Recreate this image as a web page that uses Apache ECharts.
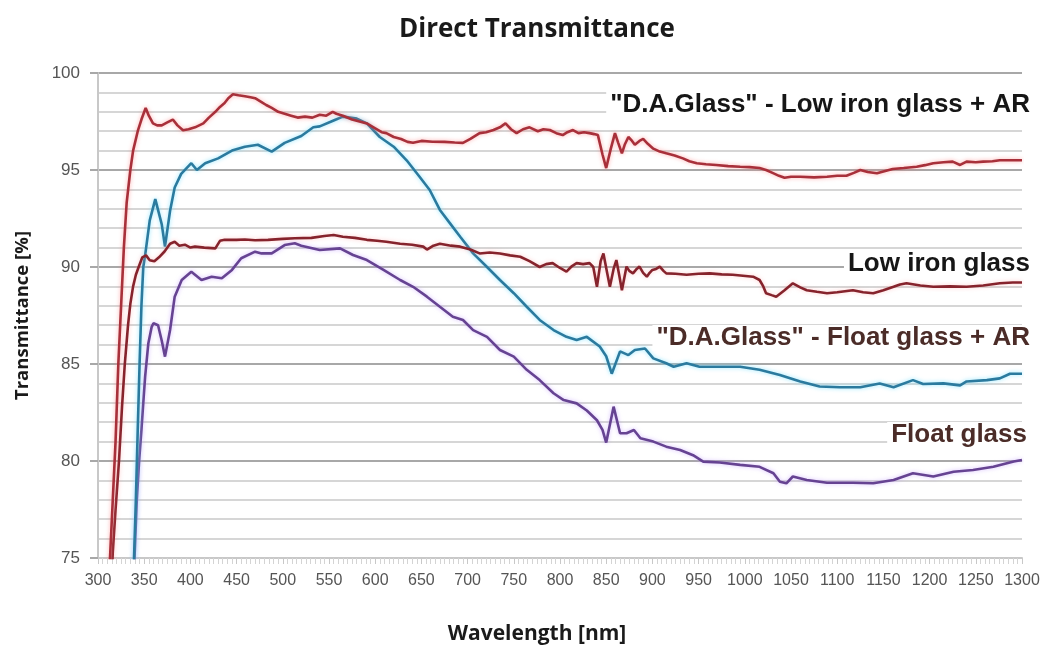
<!DOCTYPE html>
<html>
<head>
<meta charset="utf-8">
<script src="https://cdn.jsdelivr.net/npm/echarts@6/dist/echarts.min.js"></script>
<style>
html,body{margin:0;padding:0;background:#fff;}
#chart{width:1048px;height:645px;}
</style>
</head>
<body>
<div id="chart"></div>
<script>
// ---- Data ----
const xTicks = [300,350,400,450,500,550,600,650,700,750,800,850,900,950,1000,1050,1100,1150,1200,1250,1300];
const yTicks = [75,80,85,90,95,100];

// "D.A.Glass" - Low iron glass + AR
const arLowIronNm = [310,313,316,319,322,325,328,331,335,338,343,347,351.6,355,359.5,364,369,375,381,386,392,398,405,414,420,427,432,437,441,446,452,459,465,470,477,482,488,495,502,509,516,524,532,540,547,554,558,565,575,583,591,600,607,612,620,628,635,641,650,662,675,686,695,703,713,720,728,735,741,747,753,760,767,776,782,789,796,803,808,814,820,826,832,837,841,846,850,855,859.5,863,867,870,874,878,881,886,890,895,901,908,915,924,933,940,948,958,969,982,995,1005,1016,1023,1030,1037,1043,1050,1060,1075,1089,1100,1110,1118,1125,1133,1143,1152,1160,1172,1186,1195,1204,1215,1225,1233,1240,1250,1258,1268,1276,1288,1300];
const arLowIronT  = [72,75,78,81,85,88,91,93.3,95,96,97,97.6,98.2,97.8,97.4,97.3,97.3,97.45,97.6,97.3,97.05,97.1,97.2,97.4,97.7,98.0,98.25,98.45,98.7,98.9,98.85,98.8,98.75,98.7,98.5,98.35,98.2,98.0,97.9,97.8,97.7,97.75,97.7,97.85,97.8,98.0,97.9,97.8,97.6,97.5,97.4,97.15,96.95,96.9,96.7,96.6,96.45,96.4,96.5,96.46,96.45,96.42,96.4,96.6,96.9,96.95,97.06,97.2,97.4,97.1,96.9,97.1,97.2,97.0,97.1,97.06,96.9,96.8,96.95,97.06,96.9,96.95,96.9,96.85,96.8,95.8,95.1,96.1,96.9,96.4,95.86,96.3,96.7,96.5,96.3,96.5,96.6,96.35,96.1,95.95,95.86,95.75,95.6,95.45,95.35,95.3,95.26,95.2,95.17,95.15,95.1,95.0,94.85,94.7,94.6,94.65,94.65,94.62,94.65,94.7,94.7,94.85,95.0,94.9,94.83,94.95,95.05,95.1,95.17,95.25,95.35,95.4,95.43,95.26,95.43,95.4,95.43,95.45,95.5,95.5,95.5];

// Low iron glass
const lowIronNm = [313,316,319,322.7,326,329,332.5,335,338,341,344,348,352,356,361,366,372,378,383,388,394,400,405,415,427,432,437,450,459,470,484,500,513,531,545,555,565,578,591,602,612,627,640,652,656,663,670,682,692,703,713,724,735,746,757,767,778,785,792,800,807,813,818,825,832,836,840,844,847,851,854,858,861,864,867,872,875,879,883,886,890,894,897,900,904,908,912,915,925,937,950,962,975,987,998,1009,1016,1020,1023,1029,1034,1043,1052,1060,1067,1078,1089,1100,1117,1128,1139,1150,1161,1168,1175,1190,1204,1222,1240,1258,1276,1290,1300];
const lowIronT  = [72,75.3,77.5,80,82.8,85,87,88.1,89,89.6,90.0,90.5,90.6,90.35,90.3,90.5,90.8,91.2,91.3,91.1,91.15,91.0,91.05,91.0,90.96,91.35,91.4,91.4,91.42,91.38,91.4,91.45,91.48,91.5,91.6,91.65,91.56,91.5,91.4,91.35,91.3,91.2,91.15,91.05,90.9,91.1,91.2,91.1,91.05,90.9,90.7,90.75,90.7,90.6,90.53,90.3,90.0,90.15,90.2,89.95,89.76,90.05,90.2,90.15,90.2,90.0,88.98,90.3,90.7,89.7,88.98,89.9,90.36,89.6,88.8,90.02,89.8,89.67,89.9,90.02,89.7,89.5,89.7,89.85,89.9,90.02,89.8,89.67,89.65,89.6,89.65,89.67,89.62,89.6,89.55,89.5,89.33,89.0,88.65,88.55,88.47,88.8,89.16,88.95,88.8,88.72,88.65,88.7,88.8,88.7,88.65,88.8,88.98,89.1,89.16,89.05,88.98,89.0,88.98,89.05,89.16,89.2,89.2];

// "D.A.Glass" - Float glass + AR
const arFloatNm = [336,339,341,343,345,347,349,351,356,362,369,372.5,378,383,390,401,407,416,430,445,459,473,488,502,520,533,540,555,565,580,591,605,620,634,648,659,670,681,692,706,721,735,750,764,778,793,807,818,829,843,850,856,865,874,881,892,901,915,923,937,951,973,995,1016,1038,1060,1081,1103,1125,1146,1161,1182,1193,1215,1233,1240,1262,1276,1287,1300];
const arFloatT  = [70,75,78,81.6,85,88,90,90.6,92.4,93.5,92.2,91.05,92.9,94.1,94.8,95.35,95.0,95.35,95.6,96.0,96.2,96.3,95.95,96.4,96.75,97.2,97.25,97.55,97.75,97.65,97.4,96.7,96.2,95.5,94.65,93.97,92.94,92.25,91.56,90.7,90.0,89.33,88.65,87.95,87.27,86.75,86.4,86.24,86.4,85.9,85.4,84.5,85.65,85.46,85.72,85.8,85.29,85.04,84.86,85.04,84.86,84.86,84.86,84.7,84.43,84.1,83.84,83.8,83.8,84.0,83.8,84.17,83.97,84.0,83.9,84.1,84.17,84.26,84.5,84.5];

// Float glass
const floatNm = [336,339.5,342,344.5,347,349,351,354.5,358,360,365,369,372.5,378,383,390.6,401,412,423,434,445,455,470,477,488,502,513,520,540,562,576,591,609,627,641,656,670,684,695,706,721,735,750,764,778,793,804,818,829,840,846,850,858,865,872,880,887,901,915,930,944,955,973,995,1016,1031,1038,1045,1052,1067,1089,1117,1139,1161,1182,1204,1226,1247,1269,1291,1300];
const floatT  = [70,75,78,80,81.6,83,84.35,86.07,86.9,87.1,87.0,86.2,85.38,86.75,88.47,89.33,89.76,89.33,89.5,89.42,89.85,90.45,90.79,90.7,90.7,91.13,91.22,91.1,90.88,90.96,90.62,90.36,89.85,89.33,88.98,88.47,87.95,87.44,87.27,86.75,86.4,85.72,85.38,84.7,84.17,83.49,83.14,82.97,82.6,82.1,81.6,80.95,82.8,81.43,81.43,81.6,81.17,81.0,80.74,80.57,80.3,79.97,79.92,79.8,79.7,79.37,78.93,78.85,79.2,79.02,78.88,78.88,78.85,79.02,79.37,79.2,79.45,79.54,79.7,79.97,80.05];

const seriesNames = ['"D.A.Glass" - Low iron glass + AR','Low iron glass','"D.A.Glass" - Float glass + AR','Float glass'];

function zip(a,b){ return a.map((v,i)=>[v,b[i]]); }

const chart = echarts.init(document.getElementById('chart'), null, {renderer:'canvas'});

function lineSeries(name, data, color, glow, z){
  return {
    name, type:'line', data, showSymbol:false, symbol:'none', smooth:false, z,
    clip:true,
    lineStyle:{color, width:2.6, shadowColor:glow, shadowBlur:4},
    emphasis:{disabled:true}
  };
}

const labelFont = 'bold 26px "Liberation Sans"';

const option = {
  animation:false,
  backgroundColor:'#ffffff',
  title:{
    text:'Direct Transmittance', left:394, top:12, padding:5,
    textStyle:{fontFamily:'Open Sans', fontWeight:'bold', fontSize:26, color:'#1a1a1a'}
  },
  grid:{left:98, right:26, top:73, bottom:87, containLabel:false, outerBoundsMode:'none'},
  xAxis:{
    type:'value', min:300, max:1300, interval:50,
    name:'Wavelength [nm]', nameLocation:'middle', nameGap:66,
    nameTextStyle:{fontFamily:'Open Sans', fontWeight:'bold', fontSize:21, color:'#1a1a1a', padding:[0,46,0,0]},
    axisLine:{show:true, lineStyle:{color:'#c8c8c8', width:2}},
    axisTick:{show:true, length:6, lineStyle:{color:'#c8c8c8'}},
    minorTick:{show:true, splitNumber:10, length:6, lineStyle:{color:'#d4d4d4'}},
    axisLabel:{margin:15, fontFamily:'Liberation Sans', fontSize:16, color:'#555',
      formatter:v=> xTicks.includes(v) ? String(v) : ''},
    splitLine:{show:false}
  },
  yAxis:{
    type:'value', min:75, max:100, interval:5,
    name:'Transmittance [%]', nameLocation:'middle', nameGap:66, nameRotate:90,
    nameTextStyle:{fontFamily:'Open Sans', fontWeight:'bold', fontSize:18.5, color:'#1a1a1a'},
    axisLine:{show:true, lineStyle:{color:'#c8c8c8', width:2}},
    axisTick:{show:true, length:8, lineStyle:{color:'#a8a8a8', width:2}},
    axisLabel:{margin:18, fontFamily:'Liberation Sans', fontSize:17, color:'#555',
      formatter:v=> yTicks.includes(v) ? String(v) : ''},
    splitLine:{show:true, lineStyle:{color:'#a8a8a8', width:2}},
    minorTick:{show:false, splitNumber:5},
    minorSplitLine:{show:true, lineStyle:{color:'#d6d6d6', width:2}}
  },
  series:[
    lineSeries(seriesNames[3], zip(floatNm, floatT), '#664392', 'rgba(190,150,255,0.6)', 3),
    lineSeries(seriesNames[2], zip(arFloatNm, arFloatT), '#2b7a9e', 'rgba(120,225,255,0.8)', 4),
    lineSeries(seriesNames[1], zip(lowIronNm, lowIronT), '#86232c', 'rgba(255,150,150,0.45)', 5),
    lineSeries(seriesNames[0], zip(arLowIronNm, arLowIronT), '#a8303a', 'rgba(255,120,120,0.6)', 6)
  ],
  graphic:[
    {type:'text', right:16, top:92, z:100, style:{text:seriesNames[0], fill:'#161616',
      font:labelFont, backgroundColor:'#fff', padding:[0,2,0,4]}},
    {type:'text', right:16, top:251, z:100, style:{text:seriesNames[1], fill:'#161616',
      font:labelFont, backgroundColor:'#fff', padding:[0,2,0,4]}},
    {type:'text', right:16, top:325, z:100, style:{text:seriesNames[2], fill:'#4b2c28',
      font:labelFont, backgroundColor:'#fff', padding:[0,2,0,4]}},
    {type:'text', right:19, top:422, z:100, style:{text:seriesNames[3], fill:'#4b2c28',
      font:labelFont, backgroundColor:'#fff', padding:[0,2,0,4]}}
  ]
};
chart.setOption(option);
</script>
</body>
</html>
